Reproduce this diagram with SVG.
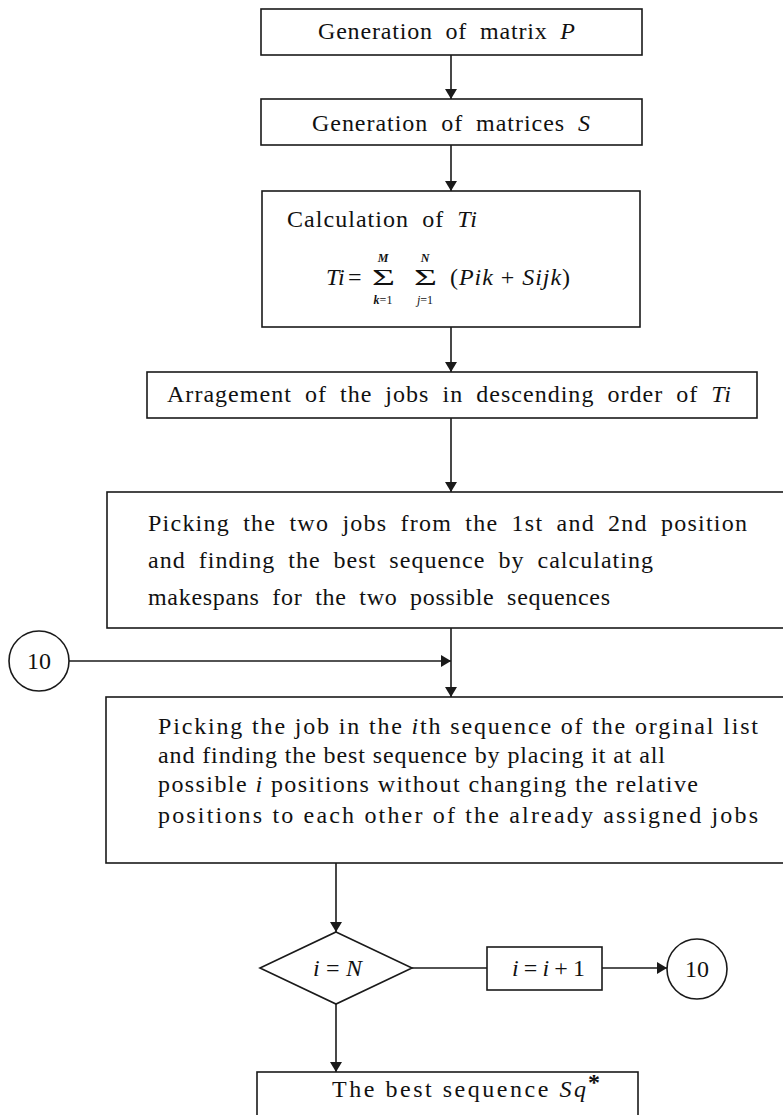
<svg xmlns="http://www.w3.org/2000/svg" width="783" height="1115" viewBox="0 0 783 1115">
  <style>
    .box { fill: #ffffff; stroke: #1a1a1a; stroke-width: 1.6; }
    .line { fill: none; stroke: #1a1a1a; stroke-width: 1.6; }
    .t { font-family: "Liberation Serif", "Times New Roman", serif; font-size: 24px; fill: #111111; word-spacing: 6px; }
    .tn { font-family: "Liberation Serif", "Times New Roman", serif; font-size: 24px; fill: #111111; word-spacing: 0px; }
    .eq { font-family: "Liberation Serif", "Times New Roman", serif; font-size: 24px; fill: #111111; word-spacing: 0px; }
    .it { font-style: italic; }
    .small { font-family: "Liberation Serif", "Times New Roman", serif; font-size: 12px; fill: #111111; }
  </style>
  <defs>
    <marker id="arrow" markerUnits="userSpaceOnUse" markerWidth="10" markerHeight="12" refX="10" refY="6" orient="auto">
      <path d="M0,0 L10,6 L0,12 z" fill="#1a1a1a"/>
    </marker>
  </defs>

  <rect width="783" height="1115" fill="#ffffff"/>

  <!-- flow lines -->
  <g id="connectors">
    <line class="line" x1="451" y1="55" x2="451" y2="99" marker-end="url(#arrow)"/>
    <line class="line" x1="451" y1="145" x2="451" y2="191" marker-end="url(#arrow)"/>
    <line class="line" x1="451" y1="327" x2="451" y2="372" marker-end="url(#arrow)"/>
    <line class="line" x1="451" y1="418" x2="451" y2="492" marker-end="url(#arrow)"/>
    <line class="line" x1="451" y1="628" x2="451" y2="697" marker-end="url(#arrow)"/>
    <line class="line" x1="69" y1="661" x2="451" y2="661" marker-end="url(#arrow)"/>
    <line class="line" x1="336" y1="863" x2="336" y2="932" marker-end="url(#arrow)"/>
    <line class="line" x1="412" y1="968" x2="487" y2="968"/>
    <line class="line" x1="602" y1="968" x2="667" y2="968" marker-end="url(#arrow)"/>
    <line class="line" x1="336" y1="1004" x2="336" y2="1072" marker-end="url(#arrow)"/>
  </g>

  <!-- generation of P -->
  <g id="gen-p">
    <rect class="box" x="261" y="9" width="381" height="46"/>
    <text class="t" x="318" y="39" textLength="257" lengthAdjust="spacing">Generation of matrix <tspan class="it">P</tspan></text>
  </g>

  <!-- generation of S -->
  <g id="gen-s">
    <rect class="box" x="261" y="99" width="381" height="46"/>
    <text class="t" x="312" y="131" textLength="278" lengthAdjust="spacing">Generation of matrices <tspan class="it">S</tspan></text>
  </g>

  <!-- calculation of Ti -->
  <g id="calc-ti">
    <rect class="box" x="262" y="191" width="378" height="136"/>
    <text class="t" x="287" y="227" textLength="190" lengthAdjust="spacing">Calculation of <tspan class="it">Ti</tspan></text>
    <text class="eq it" x="326" y="285">Ti</text>
    <text class="eq" x="348" y="285">=</text>
    <text class="eq" x="372" y="285" font-size="25" textLength="23" lengthAdjust="spacingAndGlyphs">Σ</text>
    <text class="small it" x="383" y="262" text-anchor="middle" font-weight="bold">M</text>
    <text class="small" x="383" y="304" text-anchor="middle"><tspan class="it" font-weight="bold">k</tspan>=1</text>
    <text class="eq" x="414" y="285" font-size="25" textLength="23" lengthAdjust="spacingAndGlyphs">Σ</text>
    <text class="small it" x="425" y="262" text-anchor="middle" font-weight="bold">N</text>
    <text class="small" x="425" y="304" text-anchor="middle"><tspan class="it">j</tspan>=1</text>
    <text class="eq" x="450" y="285" textLength="120" lengthAdjust="spacing">(<tspan class="it">Pik</tspan> + <tspan class="it">Sijk</tspan>)</text>
  </g>

  <!-- arrangement -->
  <g id="arrange">
    <rect class="box" x="147" y="372" width="610" height="46"/>
    <text class="t" x="167" y="402" textLength="564" lengthAdjust="spacing">Arragement of the jobs in descending order of <tspan class="it">Ti</tspan></text>
  </g>

  <!-- first two jobs -->
  <g id="first-two">
    <rect class="box" x="107" y="492" width="690" height="136"/>
    <text class="t" x="148" y="531" textLength="599" lengthAdjust="spacing">Picking the two jobs from the 1st and 2nd position</text>
    <text class="t" x="148" y="568" textLength="505" lengthAdjust="spacing">and finding the best sequence by calculating</text>
    <text class="t" x="148" y="605" textLength="462" lengthAdjust="spacing">makespans for the two possible sequences</text>
  </g>

  <!-- connector 10 (entry) -->
  <g id="conn-in">
    <circle class="box" cx="39" cy="661" r="30"/>
    <text class="eq" x="39" y="669" font-size="22" text-anchor="middle">10</text>
  </g>

  <!-- i-th job insertion -->
  <g id="insert">
    <rect class="box" x="106" y="697" width="690" height="166"/>
    <text class="tn" x="158" y="734" textLength="600" lengthAdjust="spacing">Picking the job in the <tspan class="it">i</tspan>th sequence of the orginal list</text>
    <text class="tn" x="158" y="763" textLength="507" lengthAdjust="spacing">and finding the best sequence by placing it at all</text>
    <text class="tn" x="158" y="792" textLength="540" lengthAdjust="spacing">possible <tspan class="it">i</tspan> positions without changing the relative</text>
    <text class="tn" x="158" y="823" textLength="600" lengthAdjust="spacing">positions to each other of the already assigned jobs</text>
  </g>

  <!-- decision -->
  <g id="decision">
    <polygon class="box" points="336,932 412,968 336,1004 260,968"/>
    <text class="eq" x="313" y="976" textLength="49" lengthAdjust="spacing"><tspan class="it">i</tspan>=<tspan class="it">N</tspan></text>
  </g>

  <!-- increment -->
  <g id="increment">
    <rect class="box" x="487" y="947" width="115" height="43"/>
    <text class="eq" x="512" y="976" textLength="73" lengthAdjust="spacing"><tspan class="it">i</tspan>=<tspan class="it">i</tspan>+1</text>
  </g>

  <!-- connector 10 (exit) -->
  <g id="conn-out">
    <circle class="box" cx="697" cy="969" r="30"/>
    <text class="eq" x="697" y="977" font-size="22" text-anchor="middle">10</text>
  </g>

  <!-- result -->
  <g id="result">
    <rect class="box" x="257" y="1072" width="381" height="50"/>
    <text class="tn" x="332" y="1097" textLength="254" lengthAdjust="spacing">The best sequence <tspan class="it">Sq</tspan></text>
    <text class="eq" x="588" y="1090" font-size="17" font-weight="bold">*</text>
  </g>
</svg>
